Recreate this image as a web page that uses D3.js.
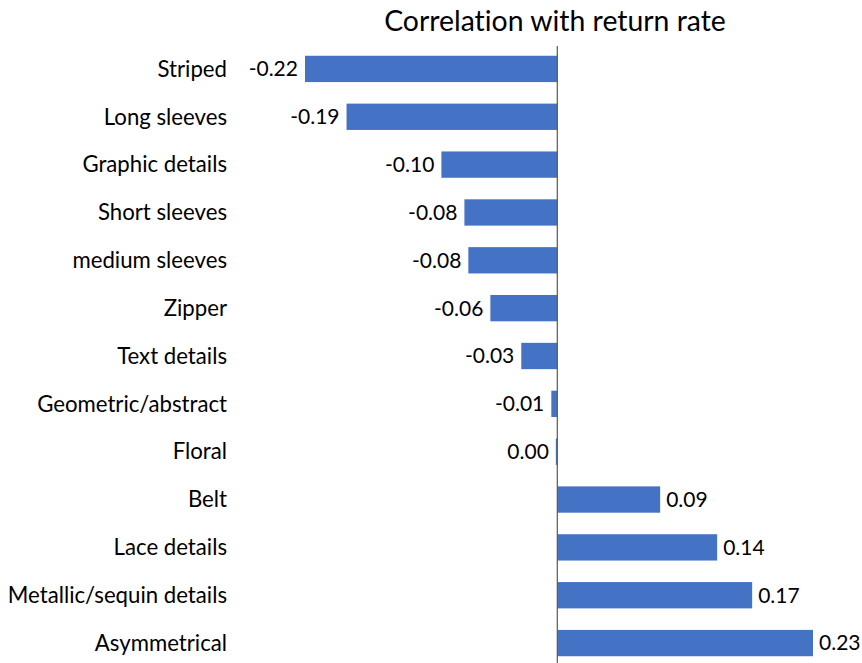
<!DOCTYPE html>
<html>
<head>
<meta charset="utf-8">
<script src="https://cdn.jsdelivr.net/npm/d3@7"></script>
<style>
  html, body { margin: 0; padding: 0; background: #fff; }
  svg { display: block; }
  text { font-family: Lato, "Open Sans", sans-serif; fill: #000; font-variant-ligatures: none; }
</style>
</head>
<body>
<svg id="chart" width="862" height="663"></svg>
<script>
// Garment features, top to bottom
const categories = [
  "Striped", "Long sleeves", "Graphic details", "Short sleeves", "medium sleeves",
  "Zipper", "Text details", "Geometric/abstract", "Floral", "Belt",
  "Lace details", "Metallic/sequin details", "Asymmetrical"
];
// Correlation of each feature with the return rate
const correlations = [
  -0.2235, -0.1867, -0.1027, -0.0823, -0.0788,
  -0.0593, -0.0319, -0.0053, -0.0013, 0.0911,
  0.1416, 0.1726, 0.2265
];
const title = "Correlation with return rate";

const data = categories.map((c, i) => ({ name: c, value: correlations[i] }));

const width = 862, height = 663;
const svg = d3.select("#chart");

const x = d3.scaleLinear()
  .domain([-0.2235, 0.2265])
  .range([305, 813]);

const y = d3.scaleBand()
  .domain(categories)
  .range([45, 667])
  .paddingInner(0.45)
  .paddingOuter(0.225);

const fmt = v => {
  const s = d3.format(".2f")(v).replace("−", "-");
  return s === "-0.00" ? "0.00" : s;
};

// Title
svg.append("text")
  .attr("x", 555)
  .attr("y", 31)
  .attr("text-anchor", "middle")
  .style("font-size", "28.4px")
  .text(title);

// Bars
svg.append("g")
  .selectAll("rect")
  .data(data)
  .join("rect")
  .attr("x", d => x(Math.min(0, d.value)))
  .attr("y", d => y(d.name))
  .attr("width", d => Math.abs(x(d.value) - x(0)))
  .attr("height", y.bandwidth())
  .attr("fill", "#4472C4");

// Zero axis
svg.append("line")
  .attr("x1", x(0)).attr("x2", x(0))
  .attr("y1", 46).attr("y2", height)
  .attr("stroke", "#595959")
  .attr("stroke-width", 1.2);

// Category labels
svg.append("g")
  .selectAll("text")
  .data(data)
  .join("text")
  .attr("x", 227)
  .attr("y", d => y(d.name) + y.bandwidth() / 2)
  .attr("dy", "0.35em")
  .attr("text-anchor", "end")
  .style("font-size", "22.2px")
  .text(d => d.name);

// Value labels at the outer end of each bar
svg.append("g")
  .selectAll("text")
  .data(data)
  .join("text")
  .attr("x", d => d.value < 0 ? x(d.value) - 7 : x(d.value) + 6)
  .attr("y", d => y(d.name) + y.bandwidth() / 2)
  .attr("dy", "0.35em")
  .attr("text-anchor", d => d.value < 0 ? "end" : "start")
  .style("font-size", "21px")
  .text(d => fmt(d.value));
</script>
</body>
</html>
